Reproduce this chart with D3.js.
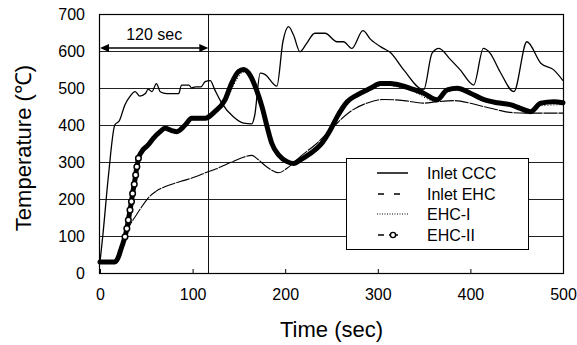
<!DOCTYPE html>
<html>
<head>
<meta charset="utf-8">
<script src="https://cdn.jsdelivr.net/npm/d3@7"></script>
<style>
  body { margin: 0; background: #fff; }
  svg { display: block; font-family: "Liberation Sans", Arial, sans-serif; }
</style>
</head>
<body>
<div id="chart"></div>
<script>
var svgWidth = 577;
var svgHeight = 345;

// values: [time (sec), temperature (C)]
var inletCCC = [[0,30],[3,100],[9,260],[16,400],[21,412],[27,455],[32,476],[38,490],[43,478],[49,485],
  [52,497],[56,490],[61,512],[65,490],[72,485],[79,485],[85,485],[88,508],[96,508],[99,500],[103,503],
  [109,503],[113.5,517],[119,520],[124,495],[131.5,459],[144,422],[155,405],[164,403],[167,425],
  [173,540],[178,537],[191,505],[197.5,625],[203.6,666],[209,643],[216,598],[223,620],[232,648],
  [243,648],[256,625],[263,625],[272,607],[284,655],[292,632],[306,607],[313,597],[328,549],
  [349.5,495],[358.6,594],[366,607],[378,578],[389,549],[403.6,508],[414,607],[421,595],[432,544],
  [447,490],[461,625],[476,567],[490,549],[500,520]];

var inletEHC = [[0,30],[15,30],[20,42],[24,70],[27,98],[32,128],[38,152],[44,175],[49,193],[54,208],
  [60,220],[70,233],[80,242],[92,251],[103,260],[113,270],[125,281],[135,292],[145,303],[155,313],
  [164,318],[170,308],[180,287],[193,271],[202,283],[216,314],[234,350],[252,395],[270,436],[288,459],
  [306,469],[328,466],[349,459],[364,463],[382,466],[400,459],[414,450],[429,441],[443,434],[460,432],
  [480,432],[500,432]];

var ehcI = [[0,30],[16,30],[22,55],[28,110],[34,190],[40,285],[45,322],[57,360],[70,387],[83,378],
  [99,414],[113,414],[124,432],[137,470],[148,524],[155,543],[162,530],[169,490],[180,390],[193,314],
  [202,297],[209,292],[216,301],[238,342],[256,418],[267,458],[292,494],[306,508],[335,494],[364,463],
  [375,488],[386,494],[414,464],[443,450],[465,432],[476,452],[500,455]];

var ehcII = [[0,30],[8,30],[16,30],[20,44],[23,67],[25,82],[27,98],[29,120],[30.6,143],[32.4,170],
  [34,193],[35.2,215],[37,240],[38.5,265],[39.8,287],[41.5,310],[45,328],[52,346],[57.6,364],[65,382],
  [70,391],[77.5,385],[83,382],[92,400],[99,418],[106,418],[113.5,418],[124,436],[135,468],[142,512],
  [149.5,544],[155,550],[162,535],[169,495],[175,449],[180.5,395],[185.6,350],[193,319],[202,301],
  [209,296],[216,305],[227,323],[238,346],[248.6,386],[256,422],[267,463],[277.5,481],[292,499],
  [303,512],[313.5,512],[320,510],[335,499],[349.5,486],[364,468],[375,495],[385.6,499],[400,486],
  [414,469],[429,460],[443,455],[454,445],[465,436],[476,459],[490,463],[500,460]];

var xTicks = [0, 100, 200, 300, 400, 500];
var yTicks = [0, 100, 200, 300, 400, 500, 600, 700];
var gridValues = [100, 200, 300, 400, 500, 600];
var markTime = 117;
var legendNames = ["Inlet CCC", "Inlet EHC", "EHC-I", "EHC-II"];

var svg = d3.select("#chart")
  .append("svg")
  .attr("width", svgWidth)
  .attr("height", svgHeight);

var x = d3.scaleLinear().domain([0, 500]).range([100, 563]);
var y = d3.scaleLinear().domain([0, 700]).range([273, 14]);

// horizontal grid
svg.append("g")
  .selectAll("line")
  .data(gridValues)
  .enter()
  .append("line")
  .attr("x1", x(0))
  .attr("x2", x(500))
  .attr("y1", d => Math.round(y(d)) + 0.5)
  .attr("y2", d => Math.round(y(d)) + 0.5)
  .attr("stroke", "#222")
  .attr("stroke-width", 1);

// 120 sec marker line
svg.append("line")
  .attr("x1", Math.round(x(markTime)) + 0.5)
  .attr("x2", Math.round(x(markTime)) + 0.5)
  .attr("y1", y(700))
  .attr("y2", y(0))
  .attr("stroke", "#111")
  .attr("stroke-width", 1);

// axes
var bottomAxis = d3.axisBottom(x).tickValues(xTicks).tickSize(-4).tickPadding(16);
var xAxis = svg.append("g")
  .attr("transform", `translate(0, ${y(0)})`)
  .call(bottomAxis);
xAxis.select(".domain").remove();
xAxis.selectAll("text").attr("font-size", 16).attr("fill", "#000")
  .attr("font-family", "Liberation Sans, Arial, sans-serif");
xAxis.selectAll("line").attr("stroke", "#000");

var leftAxis = d3.axisLeft(y).tickValues(yTicks).tickSize(0).tickPadding(15);
var yAxis = svg.append("g")
  .attr("transform", `translate(${x(0)}, 0)`)
  .call(leftAxis);
yAxis.select(".domain").remove();
yAxis.selectAll("text").attr("font-size", 16).attr("fill", "#000")
  .attr("font-family", "Liberation Sans, Arial, sans-serif");

// series
var line = d3.line()
  .x(d => x(d[0]))
  .y(d => y(d[1]))
  .curve(d3.curveMonotoneX);

svg.append("path")
  .datum(inletEHC)
  .attr("d", line)
  .attr("fill", "none")
  .attr("stroke", "#000")
  .attr("stroke-width", 1.1)
  .attr("stroke-dasharray", "14,1");

svg.append("path")
  .datum(ehcI)
  .attr("d", line)
  .attr("fill", "none")
  .attr("stroke", "#000")
  .attr("stroke-width", 1)
  .attr("stroke-dasharray", "1,2");

svg.append("path")
  .datum(inletCCC)
  .attr("d", line)
  .attr("fill", "none")
  .attr("stroke", "#000")
  .attr("stroke-width", 1.3);

svg.append("path")
  .datum(ehcII)
  .attr("d", line)
  .attr("fill", "none")
  .attr("stroke", "#000")
  .attr("stroke-width", 5)
  .attr("stroke-linejoin", "round")
  .attr("stroke-linecap", "round");

// markers only show where the samples are spread apart (steep rise)
function slope(a, b) { return Math.abs((b[1] - a[1]) / (b[0] - a[0])); }
var markerPts = ehcII.filter(function(d, i) {
  var inS = i > 0 ? slope(ehcII[i - 1], d) : 0;
  var outS = i < ehcII.length - 1 ? slope(d, ehcII[i + 1]) : 0;
  return Math.max(inS, outS) >= 11;
});
svg.append("g")
  .selectAll("circle")
  .data(markerPts)
  .enter()
  .append("circle")
  .attr("cx", d => x(d[0]))
  .attr("cy", d => y(d[1]))
  .attr("r", 2.8)
  .attr("fill", "#fff")
  .attr("stroke", "#000")
  .attr("stroke-width", 1.5);

// frame
svg.append("rect")
  .attr("x", x(0) - 0.5)
  .attr("y", y(700) + 0.5)
  .attr("width", x(500) - x(0) + 1)
  .attr("height", y(0) - y(700))
  .attr("fill", "none")
  .attr("stroke", "#000")
  .attr("stroke-width", 1.2);

// 120 sec arrow
var arrowY = 48;
svg.append("line")
  .attr("x1", x(0) + 2)
  .attr("x2", x(markTime) - 2)
  .attr("y1", arrowY)
  .attr("y2", arrowY)
  .attr("stroke", "#000")
  .attr("stroke-width", 1.6);
svg.append("path")
  .attr("d", `M${x(0)},${arrowY} l9,-4 l0,8 z`)
  .attr("fill", "#000");
svg.append("path")
  .attr("d", `M${x(markTime)},${arrowY} l-9,-4 l0,8 z`)
  .attr("fill", "#000");
svg.append("text")
  .attr("x", (x(0) + x(markTime)) / 2)
  .attr("y", 40)
  .attr("text-anchor", "middle")
  .attr("font-size", 16)
  .text("120 sec");

// legend
var legend = svg.append("g").attr("transform", "translate(346, 158)");
legend.append("rect")
  .attr("x", 0.5)
  .attr("y", 0.5)
  .attr("width", 182)
  .attr("height", 91)
  .attr("fill", "#fff")
  .attr("stroke", "#000")
  .attr("stroke-width", 1);

var rowY = [15, 36, 56, 77];
legend.append("line").attr("x1", 31).attr("x2", 62).attr("y1", rowY[0]).attr("y2", rowY[0])
  .attr("stroke", "#000").attr("stroke-width", 1.5);
legend.append("line").attr("x1", 32).attr("x2", 56).attr("y1", rowY[1]).attr("y2", rowY[1])
  .attr("stroke", "#000").attr("stroke-width", 1.3).attr("stroke-dasharray", "6,10");
legend.append("line").attr("x1", 31).attr("x2", 62).attr("y1", rowY[2]).attr("y2", rowY[2])
  .attr("stroke", "#000").attr("stroke-width", 1).attr("stroke-dasharray", "1,1.5");
legend.append("line").attr("x1", 32).attr("x2", 38).attr("y1", rowY[3]).attr("y2", rowY[3])
  .attr("stroke", "#000").attr("stroke-width", 1.5);
legend.append("line").attr("x1", 43).attr("x2", 52).attr("y1", rowY[3]).attr("y2", rowY[3])
  .attr("stroke", "#000").attr("stroke-width", 1.5);
legend.append("circle").attr("cx", 47).attr("cy", rowY[3]).attr("r", 2.6)
  .attr("fill", "#fff").attr("stroke", "#000").attr("stroke-width", 1.4);

legend.selectAll(".legText")
  .data(legendNames)
  .enter()
  .append("text")
  .attr("x", 81)
  .attr("y", (d, i) => rowY[i])
  .attr("dy", "0.35em")
  .attr("font-size", 16)
  .text(d => d);

// axis titles
svg.append("text")
  .attr("x", (x(0) + x(500)) / 2)
  .attr("y", 337)
  .attr("text-anchor", "middle")
  .attr("font-size", 22)
  .text("Time (sec)");

svg.append("text")
  .attr("transform", "translate(31, 148) rotate(-90)")
  .attr("text-anchor", "middle")
  .attr("font-size", 22)
  .text("Temperature (℃)");
</script>
</body>
</html>
